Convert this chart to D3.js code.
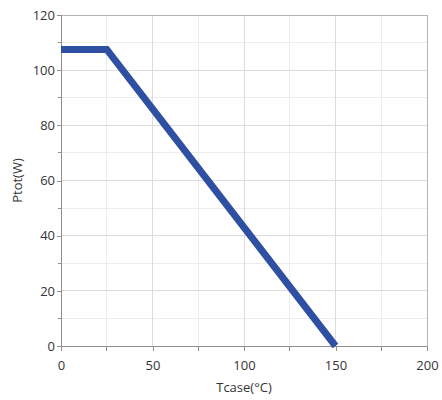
<!DOCTYPE html>
<html>
<head>
<meta charset="utf-8">
<script src="https://cdn.jsdelivr.net/npm/d3@7"></script>
<style>
  html, body { margin: 0; padding: 0; background: #fff; }
  svg { display: block; font-family: "Open Sans", "Noto Sans", sans-serif; }
</style>
</head>
<body>
<svg id="chart" width="442" height="400"></svg>
<script>
// Power derating curve: total power vs case temperature
const tcase = [0, 25, 150];
const ptot = [107.5, 107.5, 0];
const xTicks = [0, 50, 100, 150, 200];
const yTicks = [0, 20, 40, 60, 80, 100, 120];
const xMinor = [25, 75, 125, 175];
const yMinor = [10, 30, 50, 70, 90, 110];

const svg = d3.select("#chart");
const m = { left: 61, right: 15, top: 15, bottom: 54 };
const W = 442, H = 400;

const x = d3.scaleLinear().domain([0, 200]).range([m.left, W - m.right]);
const y = d3.scaleLinear().domain([0, 120]).range([H - m.bottom, m.top]);

const g = svg.append("g");

// minor grid
g.selectAll(".vminor").data(xMinor).join("line")
  .attr("x1", d => x(d)).attr("x2", d => x(d))
  .attr("y1", y(0)).attr("y2", y(120))
  .attr("stroke", "#ececec").attr("stroke-width", 1).attr("shape-rendering", "crispEdges");
g.selectAll(".hminor").data(yMinor).join("line")
  .attr("y1", d => y(d)).attr("y2", d => y(d))
  .attr("x1", x(0)).attr("x2", x(200))
  .attr("stroke", "#ececec").attr("stroke-width", 1).attr("shape-rendering", "crispEdges");

// major grid
g.selectAll(".vmajor").data(xTicks).join("line")
  .attr("x1", d => x(d)).attr("x2", d => x(d))
  .attr("y1", y(0)).attr("y2", y(120))
  .attr("stroke", "#dcdcdc").attr("stroke-width", 1).attr("shape-rendering", "crispEdges");
g.selectAll(".hmajor").data(yTicks).join("line")
  .attr("y1", d => y(d)).attr("y2", d => y(d))
  .attr("x1", x(0)).attr("x2", x(200))
  .attr("stroke", "#dcdcdc").attr("stroke-width", 1).attr("shape-rendering", "crispEdges");

// plot frame
g.append("rect")
  .attr("x", x(0)).attr("y", y(120))
  .attr("width", x(200) - x(0)).attr("height", y(0) - y(120))
  .attr("fill", "none").attr("stroke", "#b4b4b4").attr("shape-rendering", "crispEdges");

// axes
const xAxis = d3.axisBottom(x).tickValues(xTicks).tickSize(5).tickPadding(10);
const yAxis = d3.axisLeft(y).tickValues(yTicks).tickSize(4).tickPadding(2);

const gx = g.append("g").attr("transform", `translate(0,${y(0)})`).call(xAxis);
const gy = g.append("g").attr("transform", `translate(${x(0)},0)`).call(yAxis);

// minor ticks
gx.selectAll(".minor").data(xMinor).join("line")
  .attr("x1", d => x(d)).attr("x2", d => x(d)).attr("y1", 0).attr("y2", 5)
  .attr("stroke", "#909090").attr("shape-rendering", "crispEdges");
gy.selectAll(".minor").data(yMinor).join("line")
  .attr("y1", d => y(d)).attr("y2", d => y(d)).attr("x1", 0).attr("x2", -3)
  .attr("stroke", "#909090").attr("shape-rendering", "crispEdges");

[gx, gy].forEach(a => {
  a.select(".domain").attr("stroke", "#909090").attr("shape-rendering", "crispEdges");
  a.selectAll(".tick line").attr("stroke", "#909090").attr("shape-rendering", "crispEdges");
  a.selectAll(".tick text").attr("fill", "#333").style("font-size", "13px")
    .style("font-family", "'Open Sans', 'Noto Sans', sans-serif");
});

// derating curve
const line = d3.line().x((d, i) => x(tcase[i])).y((d, i) => y(ptot[i]));
g.append("path")
  .datum(tcase)
  .attr("d", line)
  .attr("fill", "none")
  .attr("stroke", "#2f4fa2")
  .attr("stroke-width", 7)
  .attr("stroke-linejoin", "miter");

// axis titles
svg.append("text")
  .attr("x", (x(0) + x(200)) / 2).attr("y", 392)
  .attr("text-anchor", "middle")
  .attr("fill", "#333").style("font-size", "13px")
  .text("Tcase(°C)");

svg.append("text")
  .attr("transform", `translate(22,${(y(0) + y(120)) / 2}) rotate(-90)`)
  .attr("text-anchor", "middle")
  .attr("fill", "#333").style("font-size", "13px")
  .text("Ptot(W)");
</script>
</body>
</html>
